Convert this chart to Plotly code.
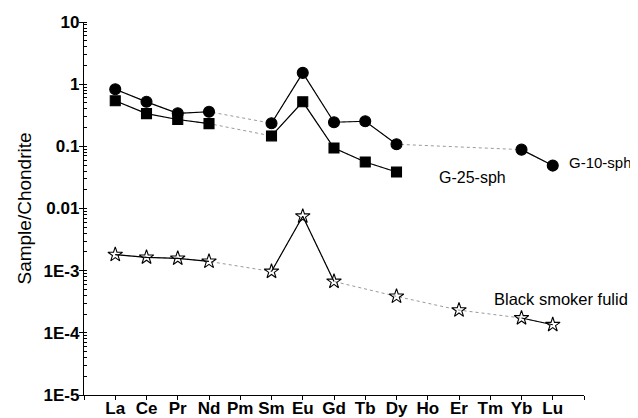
import plotly.graph_objects as go

elements = ["La", "Ce", "Pr", "Nd", "Pm", "Sm", "Eu", "Gd", "Tb", "Dy", "Ho", "Er", "Tm", "Yb", "Lu"]

g10_sph = [0.83, 0.52, 0.34, 0.36, None, 0.235, 1.52, 0.244, 0.253, 0.108, None, None, None, 0.0885, 0.049]
g25_sph = [0.54, 0.336, 0.27, 0.232, None, 0.147, 0.52, 0.094, 0.056, 0.0386, None, None, None, None, None]
black_smoker = [0.00181, 0.00164, 0.00158, 0.00141, None, 0.00097, 0.0075, 0.00067, None, 0.000386, None, 0.000232, None, 0.000173, 0.000135]

y_tick_vals = [1e-5, 1e-4, 1e-3, 1e-2, 1e-1, 1, 10]
y_tick_text = ["1E-5", "1E-4", "1E-3", "0.01", "0.1", "1", "10"]

x = list(range(len(elements)))

series = [
    ("G-10-sph", g10_sph, "circle", 11),
    ("G-25-sph", g25_sph, "square", 10),
    ("Black smoker fulid", black_smoker, "star-open", 11),
]

fig = go.Figure()
for name, vals, sym, size in series:
    # dotted connector across missing elements
    fig.add_trace(go.Scatter(x=x, y=vals, mode="lines", connectgaps=True,
                             line=dict(color="#9a9a9a", width=1, dash="dot"),
                             showlegend=False, hoverinfo="skip"))
    # solid connector between consecutive elements
    fig.add_trace(go.Scatter(x=x, y=vals, mode="lines+markers", connectgaps=False,
                             name=name,
                             line=dict(color="black", width=1.2),
                             marker=dict(symbol=sym, size=size, color="black",
                                         line=dict(color="black", width=1.1)),
                             showlegend=False))

font_family = "Liberation Sans, Arial, sans-serif"
tick_font = dict(family=font_family, size=17, color="black")

fig.update_layout(
    width=630, height=410,
    margin=dict(l=76, r=54, t=14, b=23, autoexpand=False),
    plot_bgcolor="white", paper_bgcolor="white",
    font=dict(family=font_family, color="black"),
    xaxis=dict(
        range=[-1, 15],
        tickvals=list(range(-1, len(elements) + 1)),
        ticktext=[""] + ["<b>%s</b>" % e for e in elements] + [""],
        ticks="outside", ticklen=4, tickwidth=1, tickcolor="black",
        ticklabelstandoff=-7,
        showline=True, linecolor="black", linewidth=1.3,
        showgrid=False, zeroline=False, tickfont=tick_font,
        automargin=False,
    ),
    yaxis=dict(
        type="log", range=[-5, 1],
        tickvals=y_tick_vals,
        ticktext=["<b>%s</b>" % t for t in y_tick_text],
        ticks="outside", ticklen=4, tickwidth=1, tickcolor="black",
        ticklabelstandoff=-4,
        minor=dict(ticks="inside", ticklen=3, tickwidth=1, tickcolor="black", dtick="D1", showgrid=False),
        showline=True, linecolor="black", linewidth=1.3,
        showgrid=False, zeroline=False, tickfont=tick_font,
        title=dict(text="Sample/Chondrite", font=dict(size=19, family=font_family), standoff=6),
        automargin=False,
    ),
    annotations=[
        dict(x=14.46, y=-1.268, xref="x", yref="y", text="G-10-sph", showarrow=False,
             xanchor="left", yanchor="middle", font=dict(size=15)),
        dict(x=10.3, y=-1.509, xref="x", yref="y", text="G-25-sph", showarrow=False,
             xanchor="left", yanchor="middle", font=dict(size=16)),
        dict(x=12.06, y=-3.455, xref="x", yref="y", text="Black smoker fulid", showarrow=False,
             xanchor="left", yanchor="middle", font=dict(size=16.5)),
    ],
)

fig.write_html("out.html")
